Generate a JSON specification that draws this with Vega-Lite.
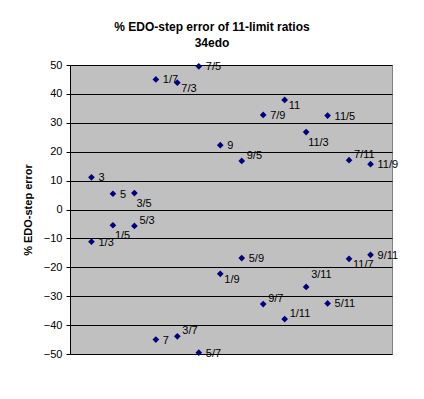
{
  "$schema": "https://vega.github.io/schema/vega-lite/v6.json",
  "autosize": {"type": "none"},
  "width": 322,
  "height": 289,
  "padding": {"left": 70, "top": 65, "right": 32, "bottom": 45},
  "background": "white",
  "title": {
    "text": ["% EDO-step error of 11-limit ratios", "34edo"],
    "font": "Liberation Sans",
    "fontSize": 12,
    "fontWeight": "bold",
    "lineHeight": 16,
    "anchor": "middle",
    "dx": -19,
    "offset": 9,
    "color": "black"
  },
  "config": {
    "view": {"fill": "#C0C0C0", "stroke": "#808080", "strokeWidth": 1},
    "text": {"font": "Liberation Sans", "fontSize": 11, "color": "black"}
  },
  "data": {
    "values": [
      {"idx": 1, "ratio": "3", "err": 11.13},
      {"idx": 2, "ratio": "5", "err": 5.45},
      {"idx": 3, "ratio": "3/5", "err": 5.68},
      {"idx": 4, "ratio": "1/7", "err": 45.01},
      {"idx": 5, "ratio": "7/3", "err": 43.87},
      {"idx": 6, "ratio": "7/5", "err": 49.55},
      {"idx": 7, "ratio": "9", "err": 22.26},
      {"idx": 8, "ratio": "9/5", "err": 16.81},
      {"idx": 9, "ratio": "7/9", "err": 32.74},
      {"idx": 10, "ratio": "11", "err": 37.93},
      {"idx": 11, "ratio": "11/3", "err": 26.80},
      {"idx": 12, "ratio": "11/5", "err": 32.49},
      {"idx": 13, "ratio": "7/11", "err": 17.06},
      {"idx": 14, "ratio": "11/9", "err": 15.68},
      {"idx": 1, "ratio": "1/3", "err": -11.13},
      {"idx": 2, "ratio": "1/5", "err": -5.45},
      {"idx": 3, "ratio": "5/3", "err": -5.68},
      {"idx": 4, "ratio": "7", "err": -45.01},
      {"idx": 5, "ratio": "3/7", "err": -43.87},
      {"idx": 6, "ratio": "5/7", "err": -49.55},
      {"idx": 7, "ratio": "1/9", "err": -22.26},
      {"idx": 8, "ratio": "5/9", "err": -16.81},
      {"idx": 9, "ratio": "9/7", "err": -32.74},
      {"idx": 10, "ratio": "1/11", "err": -37.93},
      {"idx": 11, "ratio": "3/11", "err": -26.80},
      {"idx": 12, "ratio": "5/11", "err": -32.49},
      {"idx": 13, "ratio": "11/7", "err": -17.06},
      {"idx": 14, "ratio": "9/11", "err": -15.68}
    ]
  },
  "encoding": {
    "x": {"field": "idx", "type": "quantitative", "scale": {"domain": [0, 15], "nice": false, "zero": false}, "axis": null},
    "y": {
      "field": "err",
      "type": "quantitative",
      "scale": {"domain": [-50, 50], "nice": false},
      "axis": {
        "title": "% EDO-step error",
        "titleFont": "Liberation Sans",
        "titleFontSize": 11,
        "titleFontWeight": "bold",
        "titleColor": "black",
        "titlePadding": 10,
        "values": [-50, -40, -30, -20, -10, 0, 10, 20, 30, 40, 50],
        "labelFont": "Liberation Sans",
        "labelFontSize": 11,
        "labelColor": "black",
        "labelPadding": 4,
        "tickSize": 4,
        "tickColor": "black",
        "domainColor": "black",
        "grid": true,
        "gridColor": "black",
        "gridOpacity": 1,
        "gridWidth": 1
      }
    }
  },
  "layer": [
    {"mark": {"type": "point", "shape": "diamond", "filled": true, "size": 45, "color": "#000080", "opacity": 1}},
    {
      "transform": [{"filter": {"field": "ratio", "oneOf": ["3", "5", "1/7", "7/5", "9", "7/9", "11/5", "11/9", "1/3", "7", "5/7", "5/9", "5/11", "9/11"]}}],
      "mark": {"type": "text", "align": "left", "baseline": "middle", "dx": 7, "dy": 1},
      "encoding": {"text": {"field": "ratio"}}
    },
    {
      "transform": [{"filter": {"field": "ratio", "oneOf": ["7/3", "11", "1/9", "11/7"]}}],
      "mark": {"type": "text", "align": "left", "baseline": "middle", "dx": 4, "dy": 6},
      "encoding": {"text": {"field": "ratio"}}
    },
    {
      "transform": [{"filter": {"field": "ratio", "oneOf": ["3/5", "11/3", "1/5"]}}],
      "mark": {"type": "text", "align": "left", "baseline": "middle", "dx": 2, "dy": 11},
      "encoding": {"text": {"field": "ratio"}}
    },
    {
      "transform": [{"filter": {"field": "ratio", "oneOf": ["9/5", "7/11", "5/3", "3/7", "9/7", "1/11"]}}],
      "mark": {"type": "text", "align": "left", "baseline": "middle", "dx": 5, "dy": -5},
      "encoding": {"text": {"field": "ratio"}}
    },
    {
      "transform": [{"filter": {"field": "ratio", "oneOf": ["3/11"]}}],
      "mark": {"type": "text", "align": "left", "baseline": "middle", "dx": 5, "dy": -12},
      "encoding": {"text": {"field": "ratio"}}
    }
  ]
}
